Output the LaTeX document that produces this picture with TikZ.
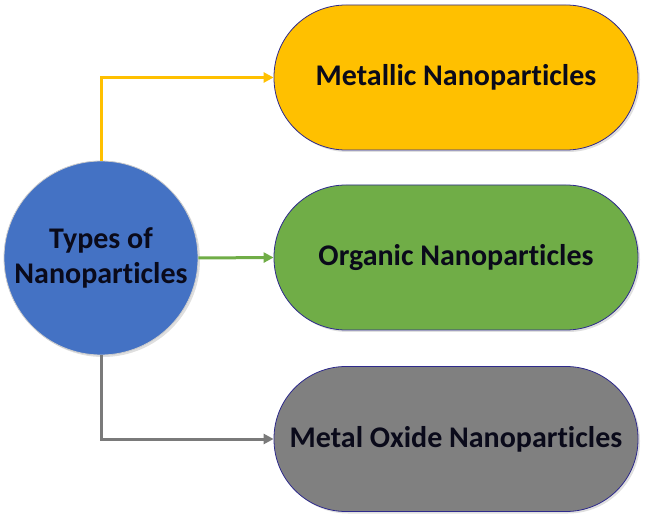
\documentclass[tikz,border=0pt]{standalone}
\RequirePackage{fontspec}
\RequirePackage{tikz}
\setmainfont{Carlito}[Ligatures={NoCommon,NoRare,NoContextual}]
\usetikzlibrary{arrows.meta}
\usetikzlibrary{shadows}

\definecolor{npyellow}{HTML}{FFC000}
\definecolor{npgreen}{HTML}{70AD47}
\definecolor{npgray}{HTML}{808080}
\definecolor{npblue}{HTML}{4472C4}
\definecolor{npborder}{HTML}{2E2A8C}
\definecolor{nptext}{HTML}{0A0A1A}

\tikzset{
  pill/.style={draw=npborder, line width=0.8pt, rounded corners=72pt,
    minimum width=364pt, minimum height=145pt, inner sep=0pt,
    font=\fontsize{30}{35}\selectfont\bfseries, text=nptext,
    drop shadow={shadow xshift=2pt, shadow yshift=-2pt, opacity=0.25}},
  hub/.style={circle, draw=gray!40, line width=0.8pt, fill=npblue,
    minimum size=194pt, inner sep=0pt, align=center,
    font=\fontsize{30}{35}\selectfont\bfseries, text=nptext,
    drop shadow={shadow xshift=2pt, shadow yshift=-2pt, opacity=0.25}},
  link/.style={line width=3pt, -{Triangle[length=10pt,width=10pt]}}
}

\begin{document}
\begin{tikzpicture}[x=1pt,y=-1pt]
  \useasboundingbox (0,0) rectangle (649,524);

  \node[pill, fill=npyellow] (metallic) at (456,77.5) {Metallic Nanoparticles};
  \node[pill, fill=npgreen] (organic) at (456,257.5) {Organic Nanoparticles};
  \node[pill, fill=npgray] (oxide) at (456,439) {Metal Oxide Nanoparticles};

  \node[hub] (types) at (101,258) {Types of\\Nanoparticles};

  \draw[link, npyellow] (types.north) |- (metallic.west);
  \draw[link, npgreen] (types.east) -- (organic.west);
  \draw[link, npgray!95!black] (types.south) |- (oxide.west);
\end{tikzpicture}
\end{document}
